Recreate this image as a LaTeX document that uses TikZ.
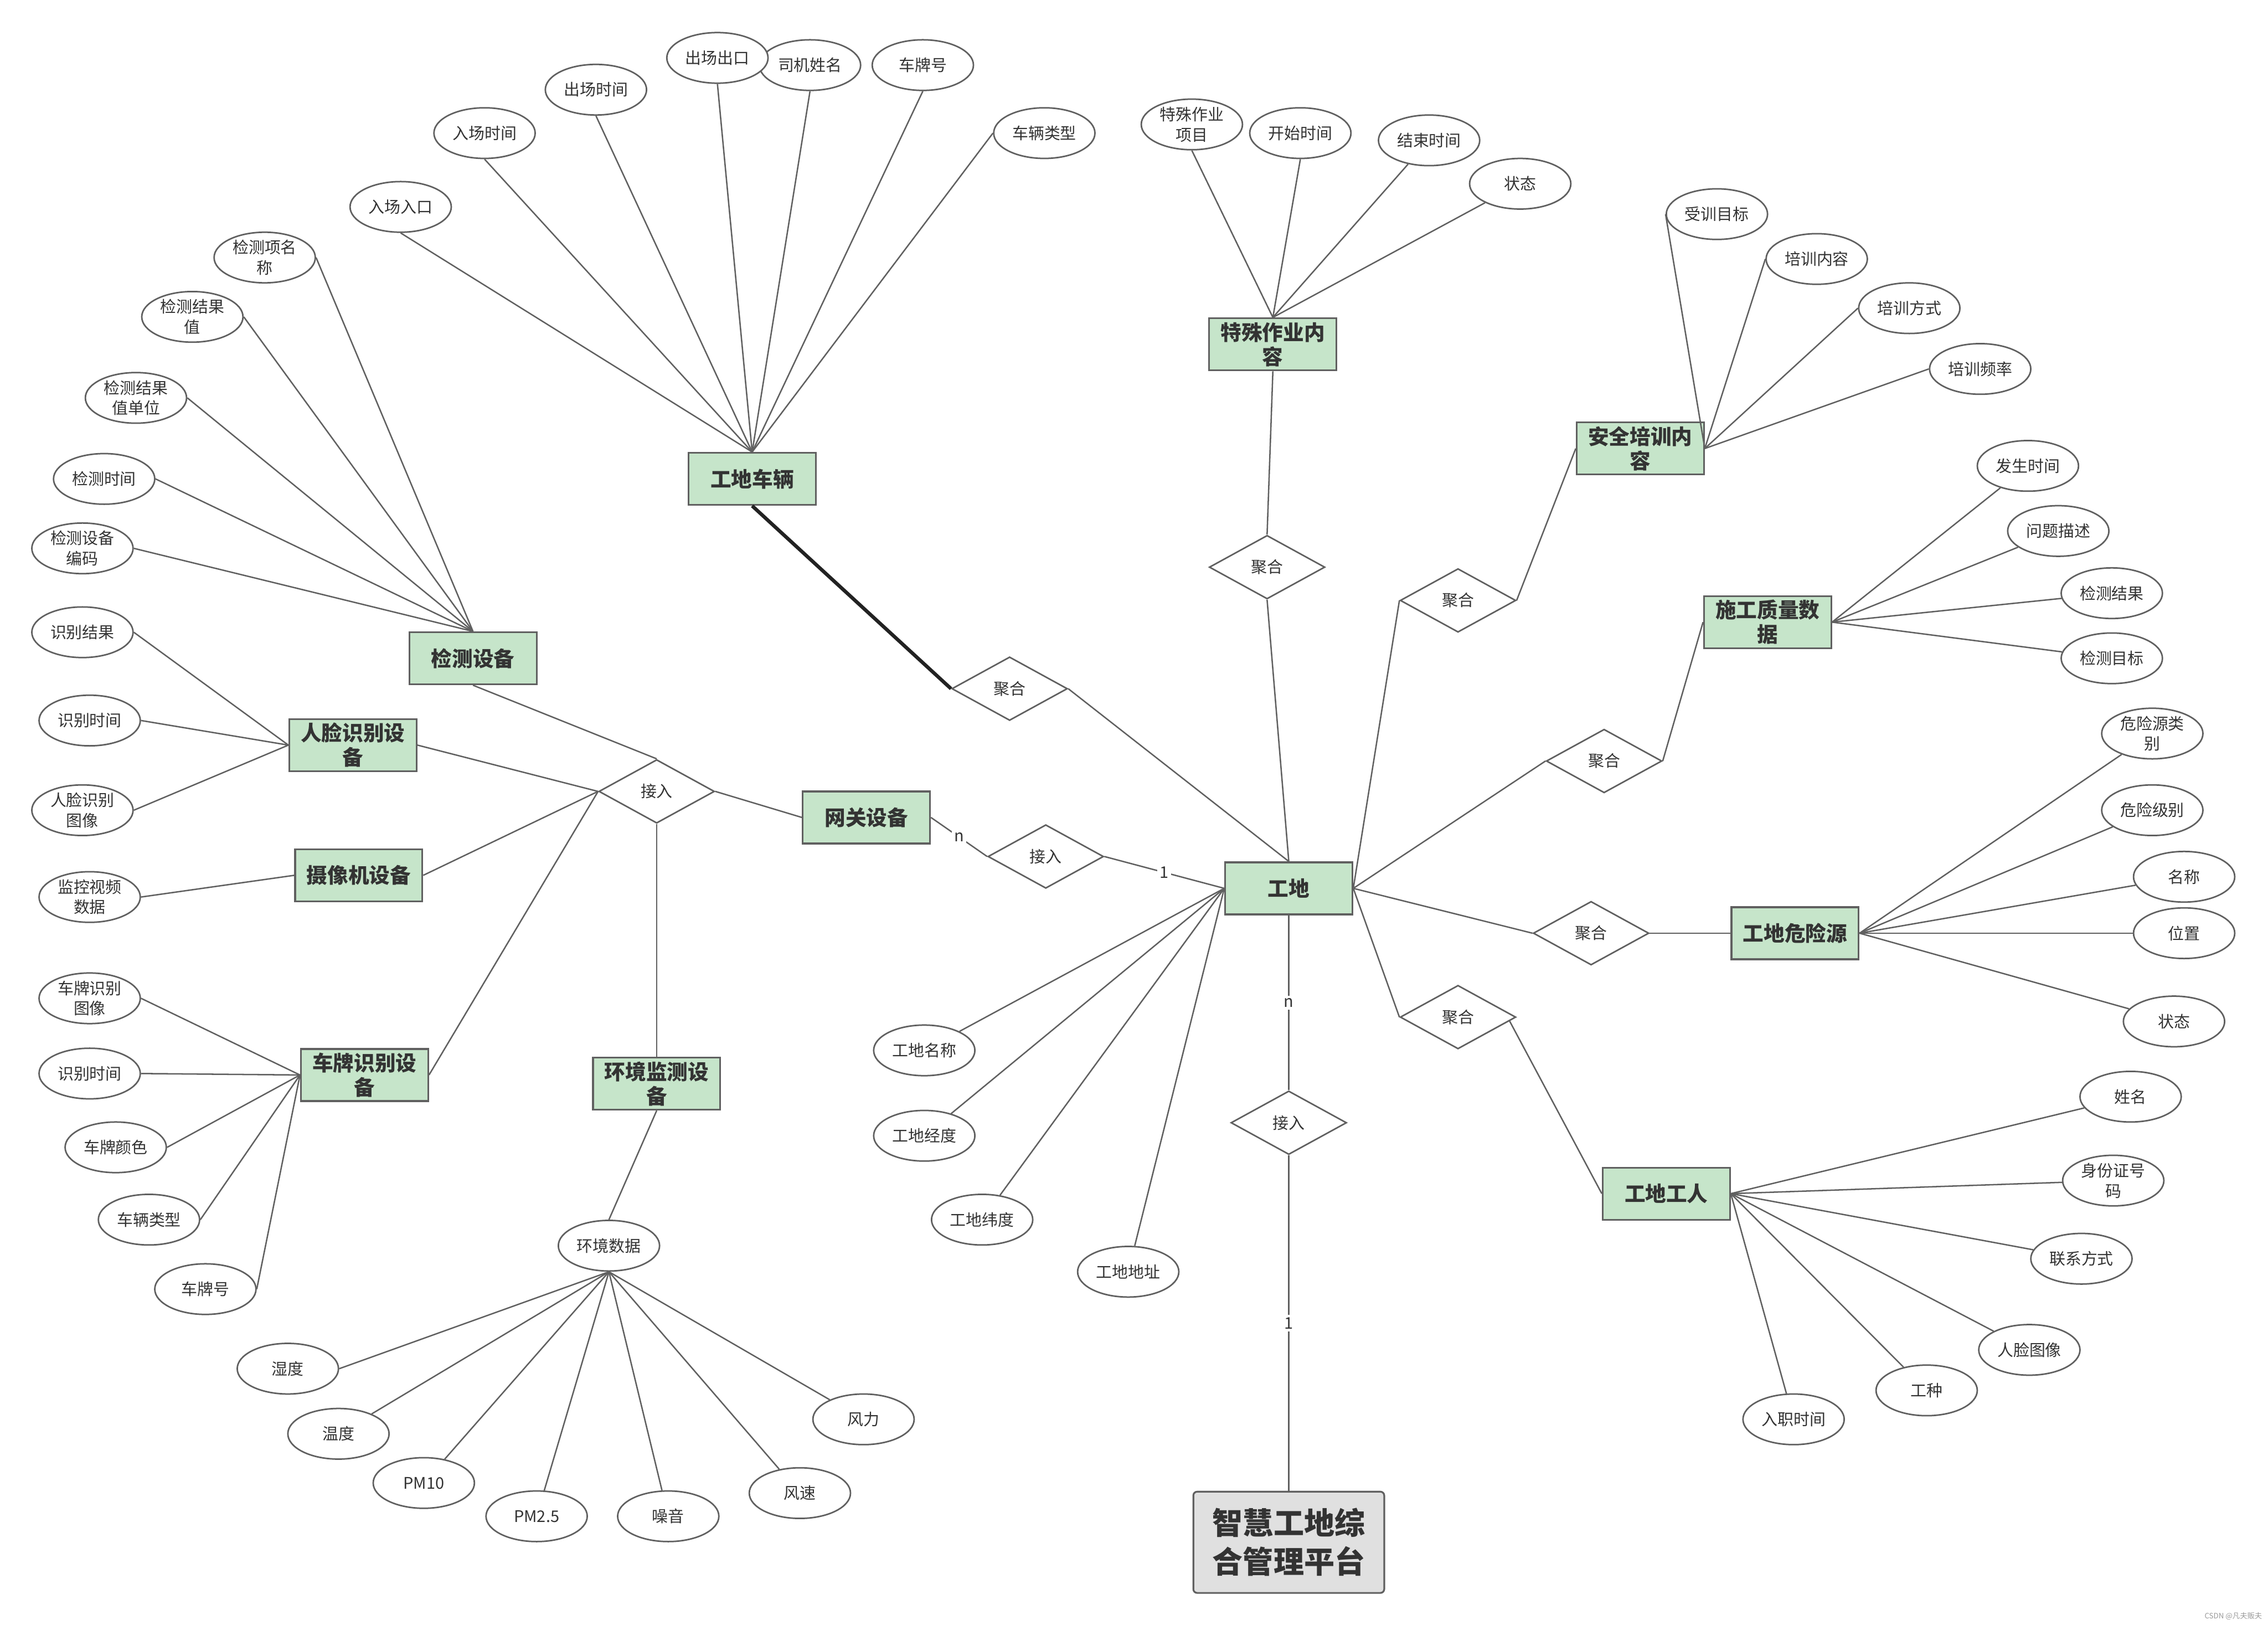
\documentclass[tikz,border=0pt]{standalone}
\usepackage{fontspec}
\setmainfont{Noto Sans CJK SC}
\usetikzlibrary{shapes.geometric,calc}
\definecolor{entfill}{HTML}{C6E5CA}
\definecolor{linec}{HTML}{606060}
\definecolor{txt}{HTML}{333333}
\definecolor{rootfill}{HTML}{E0E0E0}
\definecolor{thickc}{HTML}{222222}
\begin{document}
\begin{tikzpicture}[x=0.02cm,y=-0.02cm,
 attr/.style={ellipse,draw=linec,line width=0.6pt,fill=white,minimum width=1.4cm,minimum height=0.7cm,inner sep=0pt,font=\fontsize{6.3}{8}\selectfont,text=txt,align=center},
 ent/.style={rectangle,draw=linec,line width=0.7pt,fill=entfill,minimum width=1.76cm,minimum height=0.72cm,inner sep=0pt,font=\fontsize{8.2}{9.6}\selectfont\bfseries,text=txt,align=center},
 rel/.style={diamond,draw=linec,line width=0.6pt,fill=white,minimum width=1.6cm,minimum height=0.88cm,inner sep=0pt,font=\fontsize{6.3}{8}\selectfont,text=txt},
 rootbox/.style={rectangle,rounded corners=1.5pt,draw=linec,line width=0.7pt,fill=rootfill,minimum width=2.64cm,minimum height=1.4cm,inner sep=0pt,font=\fontsize{12}{15.3}\selectfont\bfseries,text=txt,align=center},
 conn/.style={draw=linec,line width=0.55pt},
 heavy/.style={draw=thickc,line width=1.4pt},
 card/.style={fill=white,inner sep=1pt,font=\fontsize{6.3}{8}\selectfont,text=txt}
]
\useasboundingbox (0,0) rectangle (1568,1123);

% ---------- entities ----------
\node[ent] (veh) at (520,331) {工地车辆};
\node[ent] (spec) at (880,238) {特殊作业内\\容};
\node[ent] (safe) at (1134,310) {安全培训内\\容};
\node[ent] (qual) at (1222,430) {施工质量数\\据};
\node[ent] (haz) at (1241,645) {工地危险源};
\node[ent] (work) at (1152,825) {工地工人};
\node[ent] (site) at (891,614) {工地};
\node[ent] (gw) at (599,565) {网关设备};
\node[ent] (det) at (327,455) {检测设备};
\node[ent] (face) at (244,515) {人脸识别设\\备};
\node[ent] (cam) at (248,605) {摄像机设备};
\node[ent] (plate) at (252,743) {车牌识别设\\备};
\node[ent] (env) at (454,749) {环境监测设\\备};
\node[rootbox] (root) at (891,1066) {智慧工地综\\合管理平台};

% ---------- relationships ----------
\node[rel] (r1) at (698,476) {聚合};
\node[rel] (r2) at (876,392) {聚合};
\node[rel] (r3) at (1008,415) {聚合};
\node[rel] (r4) at (1109,526) {聚合};
\node[rel] (r5) at (1100,645) {聚合};
\node[rel] (r6) at (1008,703) {聚合};
\node[rel] (j1) at (454,547) {接入};
\node[rel] (j2) at (723,592) {接入};
\node[rel] (j3) at (891,776) {接入};

% ---------- attributes ----------
% vehicle
\node[attr] (v1) at (277,143) {入场入口};
\node[attr] (v2) at (335,92) {入场时间};
\node[attr] (v3) at (412,62) {出场时间};
\node[attr] (v5) at (560,45) {司机姓名};
\node[attr] (v4) at (496,40) {出场出口};
\node[attr] (v6) at (638,45) {车牌号};
\node[attr] (v7) at (722,92) {车辆类型};
% special work
\node[attr] (s1) at (824,86) {特殊作业\\项目};
\node[attr] (s2) at (899,92) {开始时间};
\node[attr] (s3) at (988,97) {结束时间};
\node[attr] (s4) at (1051,127) {状态};
% safety training
\node[attr] (t1) at (1187,148) {受训目标};
\node[attr] (t2) at (1256,179) {培训内容};
\node[attr] (t3) at (1320,213) {培训方式};
\node[attr] (t4) at (1369,255) {培训频率};
% quality
\node[attr] (q1) at (1402,322) {发生时间};
\node[attr] (q2) at (1423,367) {问题描述};
\node[attr] (q3) at (1460,410) {检测结果};
\node[attr] (q4) at (1460,455) {检测目标};
% hazard
\node[attr] (h1) at (1488,507) {危险源类\\别};
\node[attr] (h2) at (1488,560) {危险级别};
\node[attr] (h3) at (1510,606) {名称};
\node[attr] (h4) at (1510,645) {位置};
\node[attr] (h5) at (1503,706) {状态};
% worker
\node[attr] (w1) at (1473,758) {姓名};
\node[attr] (w2) at (1461,816) {身份证号\\码};
\node[attr] (w3) at (1439,870) {联系方式};
\node[attr] (w4) at (1403,933) {人脸图像};
\node[attr] (w5) at (1332,961) {工种};
\node[attr] (w6) at (1240,981) {入职时间};
% site
\node[attr] (g1) at (639,726) {工地名称};
\node[attr] (g2) at (639,785) {工地经度};
\node[attr] (g3) at (679,843) {工地纬度};
\node[attr] (g4) at (780,879) {工地地址};
% detection device
\node[attr] (d1) at (183,178) {检测项名\\称};
\node[attr] (d2) at (133,219) {检测结果\\值};
\node[attr] (d3) at (94,275) {检测结果\\值单位};
\node[attr] (d4) at (72,331) {检测时间};
\node[attr] (d5) at (57,379) {检测设备\\编码};
% face device
\node[attr] (f1) at (57,437) {识别结果};
\node[attr] (f2) at (62,498) {识别时间};
\node[attr] (f3) at (57,560) {人脸识别\\图像};
% camera
\node[attr] (c1) at (62,620) {监控视频\\数据};
% plate device
\node[attr] (p1) at (62,690) {车牌识别\\图像};
\node[attr] (p2) at (62,742) {识别时间};
\node[attr] (p3) at (80,793) {车牌颜色};
\node[attr] (p4) at (103,843) {车辆类型};
\node[attr] (p5) at (142,891) {车牌号};
% environment
\node[attr] (e0) at (421,861) {环境数据};
\node[attr] (e1) at (199,946) {湿度};
\node[attr] (e2) at (234,991) {温度};
\node[attr] (e3) at (293,1025) {PM10};
\node[attr] (e4) at (371,1048) {PM2.5};
\node[attr] (e5) at (462,1048) {噪音};
\node[attr] (e6) at (553,1032) {风速};
\node[attr] (e7) at (597,981) {风力};

% ---------- connectors ----------
\draw[heavy] (veh.south) -- (r1.west);
\draw[conn] (r1.east) -- (site.north);
\draw[conn] (spec.south) -- (r2.north);
\draw[conn] (r2.south) -- (site.north);
\draw[conn] (r3.east) -- (safe.west);
\draw[conn] (r3.west) -- (site.east);
\draw[conn] (r4.east) -- (qual.west);
\draw[conn] (r4.west) -- (site.east);
\draw[conn] (r5.east) -- (haz.west);
\draw[conn] (r5.west) -- (site.east);
\draw[conn] ($(r6.east)!0.12!(r6.south)$) -- (work.west);
\draw[conn] (r6.west) -- (site.east);
\draw[conn] (site.south) -- node[card]{n} (j3.north);
\draw[conn] (j3.south) -- node[card]{1} (root.north);
\draw[conn] (gw.east) -- node[card]{n} (j2.west);
\draw[conn] (j2.east) -- node[card]{1} (site.west);
\draw[conn] (gw.west) -- (j1.east);
\draw[conn] (j1.west) -- (face.east);
\draw[conn] (j1.west) -- (cam.east);
\draw[conn] (j1.west) -- (plate.east);
\draw[conn] (det.south) -- (j1.north);
\draw[conn] (j1.south) -- (env.north);
\draw[conn] (e0.north) -- (env.south);

\foreach \n in {v1,v2,v3,v4,v5,v6} \draw[conn] (\n.south) -- (veh.north);
\draw[conn] (v7.west) -- (veh.north);
\draw[conn] (s1.south) -- (spec.north);
\draw[conn] (s2.south) -- (spec.north);
\foreach \n in {s3,s4} \draw[conn] (\n) -- (spec.north);
\foreach \n in {t1,t2,t3,t4} \draw[conn] (\n.west) -- (safe.east);
\foreach \n in {q1,q2,q3,q4} \draw[conn] (\n) -- (qual.east);
\foreach \n in {h1,h2,h3,h4,h5} \draw[conn] (\n) -- (haz.east);
\foreach \n in {w1,w2,w3,w4,w5,w6} \draw[conn] (\n) -- (work.east);
\foreach \n in {g1,g2,g3,g4} \draw[conn] (\n) -- (site.west);
\foreach \n in {d1,d2,d3,d4,d5} \draw[conn] (\n.east) -- (det.north);
\foreach \n in {f1,f2,f3} \draw[conn] (\n.east) -- (face.west);
\draw[conn] (c1.east) -- (cam.west);
\foreach \n in {p1,p2,p3,p4,p5} \draw[conn] (\n.east) -- (plate.west);
\draw[conn] (e1.east) -- (e0.south);
\foreach \n in {e2,e3,e4,e5,e6,e7} \draw[conn] (\n) -- (e0.south);

% watermark
\node[font=\fontsize{2.9}{3}\selectfont,text=black!40] (wm) at (1544,1117) {CSDN @凡夫贩夫};
\end{tikzpicture}
\end{document}
